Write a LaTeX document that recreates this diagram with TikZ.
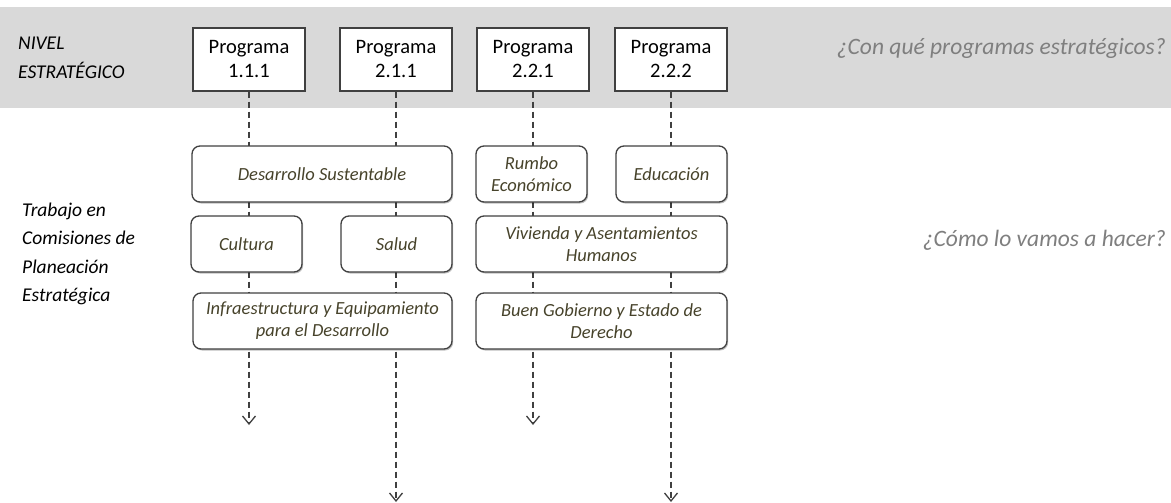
\documentclass[tikz,border=0pt]{standalone}
\usepackage{fontspec}
\setmainfont{Carlito}
\usetikzlibrary{arrows.meta,shadows}
\pgfdeclarelayer{bg}
\pgfdeclarelayer{ln}
\pgfsetlayers{bg,ln,main}
\definecolor{band}{HTML}{D9D9D9}
\definecolor{linec}{HTML}{404040}
\definecolor{boxtext}{HTML}{47432B}
\definecolor{qgray}{HTML}{7F7F7F}
\begin{document}
\begin{tikzpicture}[x=1pt,y=-1pt,
  shad/.style={drop shadow={shadow xshift=1.2pt,shadow yshift=-1.5pt,opacity=0.25,fill=black}},
  prog/.style={shad,draw=linec,fill=white,line width=1.3pt,minimum width=112pt,minimum height=63pt,
    inner sep=0pt,align=center,font=\fontsize{20.5}{24}\selectfont},
  com/.style={shad,draw=linec,fill=white,line width=1.3pt,rounded corners=8pt,minimum height=56pt,
    inner sep=0pt,align=center,text=boxtext,font=\fontsize{18.5}{22}\selectfont\itshape},
  lbl/.style={inner sep=0pt,font=\fontsize{19.5}{24}\selectfont\itshape,anchor=base west},
  quest/.style={inner sep=0pt,text=qgray,font=\fontsize{23.5}{28}\selectfont\itshape,anchor=east},
  flow/.style={draw=linec,line width=1.3pt,dash pattern=on 6pt off 4pt,
    -{Straight Barb[length=8pt,width=13pt,line width=1.3pt]}}]
\useasboundingbox (0,0) rectangle (1171,503);
\begin{pgfonlayer}{bg}
  \fill[band] (0,7) rectangle (1171,108);
\end{pgfonlayer}

% strategic level
\node[lbl] (niv) at (18,50) {NIVEL};
\node[lbl] (est) at (18,78) {ESTRATÉGICO};
\node[prog] (p1) at (249,59.5) {Programa\\1.1.1};
\node[prog] (p2) at (396,59.5) {Programa\\2.1.1};
\node[prog] (p3) at (533,59.5) {Programa\\2.2.1};
\node[prog] (p4) at (671,59.5) {Programa\\2.2.2};
\node[quest] (q1) at (1166,48) {¿Con qué programas estratégicos?};

% commissions
\node[lbl] (t1) at (22,216) {Trabajo en};
\node[lbl] (t2) at (22,244) {Comisiones de};
\node[lbl] (t3) at (22,273) {Planeación};
\node[lbl] (t4) at (22,301) {Estratégica};
\node[quest] (q2) at (1166,240) {¿Cómo lo vamos a hacer?};

\node[com,minimum width=260pt] (des) at (322,174) {Desarrollo Sustentable};
\node[com,minimum width=111pt] (rum) at (531.5,174) {Rumbo\\Económico};
\node[com,minimum width=111pt] (edu) at (671.5,174) {Educación};
\node[com,minimum width=111pt] (cul) at (246.5,244) {Cultura};
\node[com,minimum width=111pt] (sal) at (396.5,244) {Salud};
\node[com,minimum width=251pt] (viv) at (601.5,244) {Vivienda y Asentamientos\\Humanos};
\node[com,minimum width=259pt] (inf) at (322.5,321) {Infraestructura y Equipamiento\\para el Desarrollo};
\node[com,minimum width=251pt] (bue) at (601.5,321) {Buen Gobierno y Estado de\\Derecho};

\coordinate (e1) at (249,425);
\coordinate (e2) at (396,502);
\coordinate (e3) at (533,425);
\coordinate (e4) at (671,502);
\begin{pgfonlayer}{ln}
  \draw[flow] (p1.south) -- (e1);
  \draw[flow] (p2.south) -- (e2);
  \draw[flow] (p3.south) -- (e3);
  \draw[flow] (p4.south) -- (e4);
\end{pgfonlayer}
\end{tikzpicture}
\end{document}
